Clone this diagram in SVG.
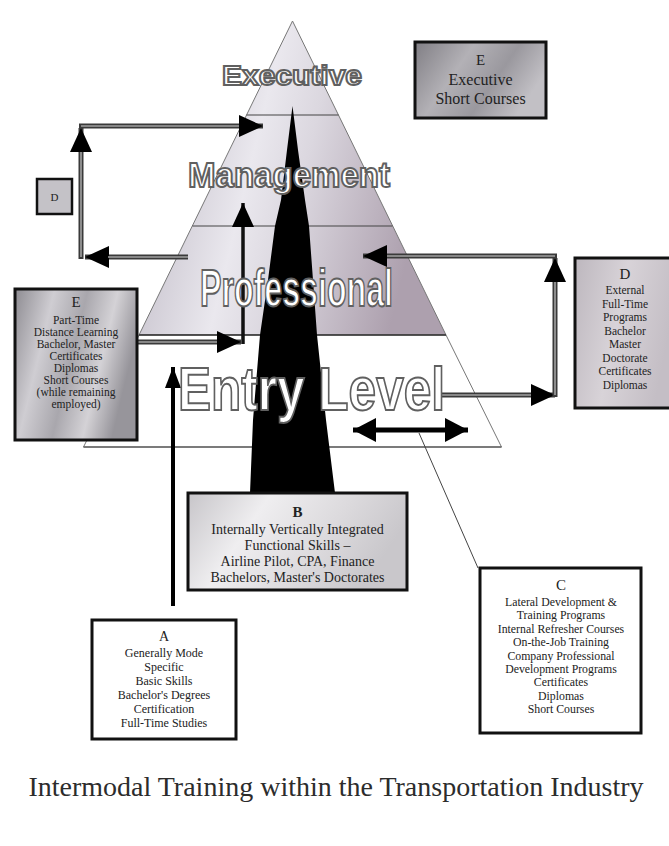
<svg xmlns="http://www.w3.org/2000/svg" width="669" height="846" viewBox="0 0 669 846">
<defs>
  <linearGradient id="gPyr" x1="0" y1="0" x2="1" y2="0.25">
    <stop offset="0" stop-color="#b3adba"/>
    <stop offset="0.45" stop-color="#eae8ee"/>
    <stop offset="0.62" stop-color="#dbd7df"/>
    <stop offset="1" stop-color="#ada0ae"/>
  </linearGradient>
  <linearGradient id="gMetal" x1="0" y1="0" x2="1" y2="0.3">
    <stop offset="0" stop-color="#8e8c92"/>
    <stop offset="0.3" stop-color="#cfcdd2"/>
    <stop offset="0.55" stop-color="#a9a7ad"/>
    <stop offset="0.78" stop-color="#d4d2d6"/>
    <stop offset="1" stop-color="#97959b"/>
  </linearGradient>
  <linearGradient id="gDark" x1="0" y1="0" x2="1" y2="0.4">
    <stop offset="0" stop-color="#807e84"/>
    <stop offset="0.4" stop-color="#b3b1b6"/>
    <stop offset="0.7" stop-color="#9a989e"/>
    <stop offset="1" stop-color="#c2c0c5"/>
  </linearGradient>
  <linearGradient id="gLight" x1="0" y1="0" x2="1" y2="0.3">
    <stop offset="0" stop-color="#c7c5c9"/>
    <stop offset="0.35" stop-color="#efeef0"/>
    <stop offset="0.7" stop-color="#dcdadd"/>
    <stop offset="1" stop-color="#c9c7cb"/>
  </linearGradient>
  <linearGradient id="gLav" x1="0" y1="0" x2="1" y2="0.3">
    <stop offset="0" stop-color="#bdb7be"/>
    <stop offset="0.5" stop-color="#d8d3d8"/>
    <stop offset="1" stop-color="#c4bec5"/>
  </linearGradient>
  <marker id="ahG" viewBox="0 0 24 22" refX="24" refY="11" markerWidth="24" markerHeight="22" markerUnits="userSpaceOnUse" orient="auto">
    <path d="M0,0 L24,11 L0,22 Z" fill="#000"/>
  </marker>
  <marker id="ahA" viewBox="0 0 21 16" refX="21" refY="8" markerWidth="21" markerHeight="16" markerUnits="userSpaceOnUse" orient="auto">
    <path d="M0,0 L21,8 L0,16 Z" fill="#000"/>
  </marker>
  <marker id="ahD" viewBox="0 0 23 24" refX="23" refY="12" markerWidth="23" markerHeight="24" markerUnits="userSpaceOnUse" orient="auto-start-reverse">
    <path d="M0,0 L23,12 L0,24 Z" fill="#000"/>
  </marker>
</defs>
<style>
  .lbl{font-family:"Liberation Sans",Arial,sans-serif;font-weight:bold;fill:#ffffff;stroke:#606060;stroke-width:2;text-anchor:middle}
  .bx{stroke:#111;stroke-width:3}
  .t{font-family:"Liberation Serif","Times New Roman",serif;fill:#222;text-anchor:middle}
  .lnO{fill:none;stroke:#3a3a3a;stroke-width:5}
  .lnI{fill:none;stroke:#a2a2a2;stroke-width:1.6}
  .band{fill:none;stroke:#444;stroke-width:1.2}
</style>
<rect width="669" height="846" fill="#ffffff"/>

<g id="pyramid">
  <polygon points="292.5,21 446,335 139,335" fill="url(#gPyr)" stroke="#777" stroke-width="1"/>
  <polygon points="139,335 446,335 501.5,447 83.5,447" fill="#ffffff" stroke="#777" stroke-width="1"/>
  <line class="band" x1="246.5" y1="115" x2="338.5" y2="115"/>
  <line class="band" x1="192.5" y1="226" x2="392.5" y2="226"/>
  <line x1="139" y1="335" x2="446" y2="335" stroke="#333" stroke-width="1.6"/>
  <line x1="83.5" y1="447" x2="501.5" y2="447" stroke="#666" stroke-width="1.6"/>
  <polygon id="spike" points="292.5,106 298,150 305,200 309,226 313,280 317,335 326,420 335,493 250,493 253,420 260,335 268,280 275,226 281,200 287,150" fill="#000"/>
</g>

<g id="connectors">
  <path class="lnO" d="M188,257 L85,257" marker-end="url(#ahG)"/>
  <path class="lnO" d="M81,259 L81,128" marker-end="url(#ahG)"/>
  <path class="lnO" d="M79,126 L263,126" marker-end="url(#ahG)"/>
  <path class="lnI" d="M188,257 L108,257"/>
  <path class="lnI" d="M81,257 L81,152"/>
  <path class="lnI" d="M81,126 L239,126"/>
  <path class="lnO" d="M440,395 L555,395" marker-end="url(#ahG)"/>
  <path class="lnO" d="M555,397 L555,258" marker-end="url(#ahG)"/>
  <path class="lnO" d="M557,256 L363,256" marker-end="url(#ahG)"/>
  <path class="lnI" d="M440,395 L531,395"/>
  <path class="lnI" d="M555,395 L555,282"/>
  <path class="lnI" d="M555,256 L387,256"/>
  <path class="lnO" d="M137,342 L241,342" marker-end="url(#ahG)"/>
  <path class="lnI" d="M137,342 L217,342"/>
  <path d="M243,344 L243,203" fill="none" stroke="#111" stroke-width="3.5" marker-end="url(#ahG)"/>
  <path d="M173,606 L173,367" fill="none" stroke="#000" stroke-width="4" marker-end="url(#ahA)"/>
  <path d="M353,430 L468,430" fill="none" stroke="#000" stroke-width="5" marker-start="url(#ahD)" marker-end="url(#ahD)"/>
  <path d="M419,433 L478,568" fill="none" stroke="#444" stroke-width="1"/>
</g>

<g id="levels">
  <text class="lbl" x="292" y="85" font-size="28" textLength="140" lengthAdjust="spacingAndGlyphs">Executive</text>
  <text class="lbl" x="289" y="187" font-size="35" textLength="202" lengthAdjust="spacingAndGlyphs">Management</text>
  <text class="lbl" x="296.5" y="306" font-size="52" textLength="193" lengthAdjust="spacingAndGlyphs">Professional</text>
  <text class="lbl" x="311.5" y="410" font-size="62" textLength="267" lengthAdjust="spacingAndGlyphs">Entry Level</text>
</g>

<g id="nodeF">
  <rect class="bx" x="415" y="42" width="131" height="76" fill="url(#gDark)"/>
  <text class="t" x="480.5" y="65" font-size="15">E</text>
  <text class="t" x="480.5" y="85" font-size="16">Executive</text>
  <text class="t" x="480.5" y="104" font-size="16">Short Courses</text>
</g>

<g id="nodeDsmall">
  <rect x="37" y="179" width="35" height="35" fill="#c4c2c7" stroke="#111" stroke-width="2.5"/>
  <text class="t" x="54.5" y="200.5" font-size="11">D</text>
</g>

<g id="nodeE">
  <rect class="bx" x="15" y="289" width="122" height="151" fill="url(#gMetal)"/>
  <text class="t" x="76" y="307" font-size="15">E</text>
  <text class="t" x="76" y="323.5" font-size="11.5">Part-Time</text>
  <text class="t" x="76" y="335.5" font-size="11.5">Distance Learning</text>
  <text class="t" x="76" y="347.5" font-size="11.5">Bachelor, Master</text>
  <text class="t" x="76" y="359.5" font-size="11.5">Certificates</text>
  <text class="t" x="76" y="371.5" font-size="11.5">Diplomas</text>
  <text class="t" x="76" y="383.5" font-size="11.5">Short Courses</text>
  <text class="t" x="76" y="395.5" font-size="11.5">(while remaining</text>
  <text class="t" x="76" y="407.5" font-size="11.5">employed)</text>
</g>

<g id="nodeD">
  <rect class="bx" x="575" y="258" width="100" height="150" fill="url(#gLav)"/>
  <text class="t" x="625" y="279" font-size="15">D</text>
  <text class="t" x="625" y="294" font-size="11.5">External</text>
  <text class="t" x="625" y="307.5" font-size="11.5">Full-Time</text>
  <text class="t" x="625" y="321" font-size="11.5">Programs</text>
  <text class="t" x="625" y="334.5" font-size="11.5">Bachelor</text>
  <text class="t" x="625" y="348" font-size="11.5">Master</text>
  <text class="t" x="625" y="361.5" font-size="11.5">Doctorate</text>
  <text class="t" x="625" y="375" font-size="11.5">Certificates</text>
  <text class="t" x="625" y="388.5" font-size="11.5">Diplomas</text>
</g>

<g id="nodeB">
  <rect class="bx" x="188" y="493" width="219" height="97" fill="url(#gLight)"/>
  <text class="t" x="297.5" y="517" font-size="15" font-weight="bold">B</text>
  <text class="t" x="297.5" y="534" font-size="14">Internally Vertically Integrated</text>
  <text class="t" x="297.5" y="550" font-size="14">Functional Skills –</text>
  <text class="t" x="297.5" y="566" font-size="14">Airline Pilot, CPA, Finance</text>
  <text class="t" x="297.5" y="582" font-size="14">Bachelors, Master's Doctorates</text>
</g>

<g id="nodeC">
  <rect class="bx" x="480" y="568" width="161" height="165" fill="#ffffff"/>
  <text class="t" x="561" y="590" font-size="15">C</text>
  <text class="t" x="561" y="606" font-size="11.8">Lateral Development &amp;</text>
  <text class="t" x="561" y="619.4" font-size="11.8">Training Programs</text>
  <text class="t" x="561" y="632.8" font-size="11.8">Internal Refresher Courses</text>
  <text class="t" x="561" y="646.2" font-size="11.8">On-the-Job Training</text>
  <text class="t" x="561" y="659.6" font-size="11.8">Company Professional</text>
  <text class="t" x="561" y="673" font-size="11.8">Development Programs</text>
  <text class="t" x="561" y="686.4" font-size="11.8">Certificates</text>
  <text class="t" x="561" y="699.8" font-size="11.8">Diplomas</text>
  <text class="t" x="561" y="713.2" font-size="11.8">Short Courses</text>
</g>

<g id="nodeA">
  <rect class="bx" x="92" y="620" width="144" height="119" fill="#ffffff"/>
  <text class="t" x="164" y="641" font-size="14">A</text>
  <text class="t" x="164" y="657" font-size="12">Generally Mode</text>
  <text class="t" x="164" y="671" font-size="12">Specific</text>
  <text class="t" x="164" y="685" font-size="12">Basic Skills</text>
  <text class="t" x="164" y="699" font-size="12">Bachelor's Degrees</text>
  <text class="t" x="164" y="713" font-size="12">Certification</text>
  <text class="t" x="164" y="727" font-size="12">Full-Time Studies</text>
</g>

<g id="caption">
  <text class="t" x="336" y="796" font-size="28" style="fill:#2c2c2c">Intermodal Training within the Transportation Industry</text>
</g>
</svg>
